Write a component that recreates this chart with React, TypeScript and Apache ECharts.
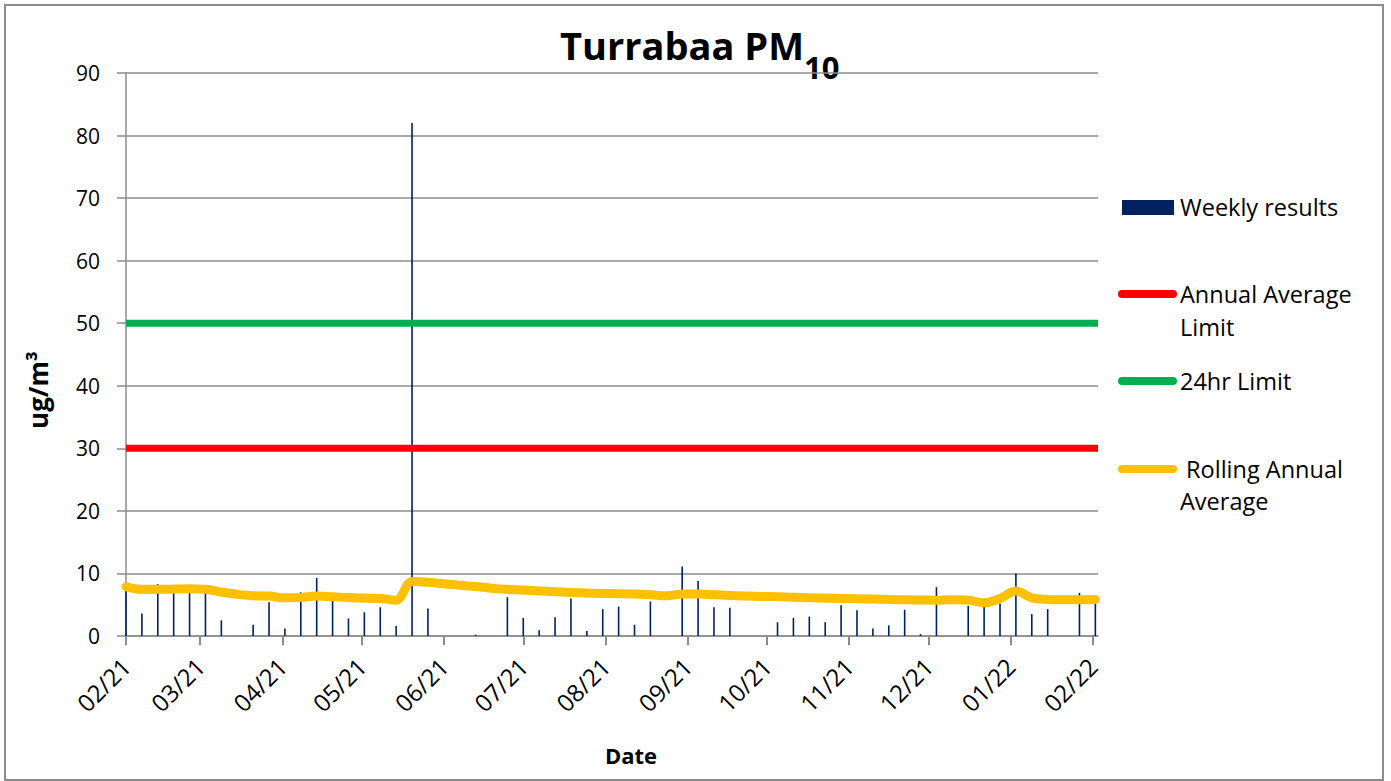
import React, { useEffect, useRef } from "react";
import * as echarts from "echarts";

// Sample dates (1-in-6-day sampling)
const sampleDates = [
  "2021-02-01", "2021-02-07", "2021-02-13", "2021-02-19", "2021-02-25",
  "2021-03-03", "2021-03-09", "2021-03-15", "2021-03-21", "2021-03-27",
  "2021-04-02", "2021-04-08", "2021-04-14", "2021-04-20", "2021-04-26",
  "2021-05-02", "2021-05-08", "2021-05-14", "2021-05-20", "2021-05-26",
  "2021-06-01", "2021-06-07", "2021-06-13", "2021-06-19", "2021-06-25",
  "2021-07-01", "2021-07-07", "2021-07-13", "2021-07-19", "2021-07-25",
  "2021-07-31", "2021-08-06", "2021-08-12", "2021-08-18", "2021-08-24",
  "2021-08-30", "2021-09-05", "2021-09-11", "2021-09-17", "2021-09-23",
  "2021-09-29", "2021-10-05", "2021-10-11", "2021-10-17", "2021-10-23",
  "2021-10-29", "2021-11-04", "2021-11-10", "2021-11-16", "2021-11-22",
  "2021-11-28", "2021-12-04", "2021-12-10", "2021-12-16", "2021-12-22",
  "2021-12-28", "2022-01-03", "2022-01-09", "2022-01-15", "2022-01-21",
  "2022-01-27", "2022-02-02",
];

const weeklyResults: (number | null)[] = [
  7.7, 3.6, 8.3, 7.2, 7.2, 7.2, 2.5, null, 1.8, 5.4,
  1.2, 7.0, 9.3, 5.6, 2.8, 3.8, 4.6, 1.6, 82.0, 4.4,
  null, null, 0.2, null, 6.2, 2.9, 0.9, 3.0, 6.0, 0.8,
  4.3, 4.7, 1.8, 5.5, null, 11.1, 8.8, 4.6, 4.5, null,
  null, 2.2, 2.9, 3.1, 2.2, 4.9, 4.1, 1.2, 1.7, 4.2,
  0.3, 7.8, null, 4.8, 5.0, 5.2, 10.0, 3.5, 4.3, null,
  6.9, 5.5,
];

const rollingAverage = [
  7.9, 7.46, 7.46, 7.5, 7.57, 7.46, 7.03, 6.65, 6.43, 6.38,
  6.1, 6.16, 6.38, 6.27, 6.16, 6.05, 6.0, 5.73, 8.7, 8.6,
  8.35, 8.1, 7.9, 7.65, 7.46, 7.35, 7.2, 7.08, 6.97, 6.88,
  6.8, 6.76, 6.7, 6.6, 6.43, 6.7, 6.7, 6.6, 6.49, 6.4,
  6.33, 6.27, 6.2, 6.1, 6.05, 6.0, 5.95, 5.9, 5.85, 5.78,
  5.75, 5.73, 5.78, 5.73, 5.3, 6.0, 7.19, 6.1, 5.84, 5.78,
  5.78, 5.84,
];

const limitDates = ["2021-02-01", "2022-02-03"];
const annualLimit = [30, 30];
const dailyLimit = [50, 50];

const monthTicks = [
  "2021-02-01", "2021-03-01", "2021-04-01", "2021-05-01", "2021-06-01",
  "2021-07-01", "2021-08-01", "2021-09-01", "2021-10-01", "2021-11-01",
  "2021-12-01", "2022-01-01", "2022-02-01",
];

const yTicks = { min: 0, max: 90, interval: 10 };

const toMs = (s: string) => {
  const [y, m, d] = s.split("-").map(Number);
  return Date.UTC(y, m - 1, d);
};

const FONT = "'Open Sans', 'Noto Sans', sans-serif";

export default function App() {
  const ref = useRef<HTMLDivElement>(null);

  useEffect(() => {
    if (!ref.current) return;
    const chart = echarts.init(ref.current, undefined, { renderer: "svg" });
    const monthMs = monthTicks.map(toMs);
    const xMin = toMs(limitDates[0]);
    const xMax = toMs(limitDates[1]);

    const barData = sampleDates.map((d, i) => [toMs(d), weeklyResults[i]]);
    const rollData = sampleDates.map((d, i) => [toMs(d), rollingAverage[i]]);
    const annData = limitDates.map((d, i) => [toMs(d), annualLimit[i]]);
    const dayData = limitDates.map((d, i) => [toMs(d), dailyLimit[i]]);

    const gray = "#8c8c8c";

    chart.setOption({
      animation: false,
      backgroundColor: "#ffffff",
      grid: { left: 126, right: 293, top: 73, bottom: 145, containLabel: false },
      xAxis: {
        type: "value",
        min: xMin,
        max: xMax,
        axisLine: { show: true, lineStyle: { color: gray, width: 1.5 } },
        axisTick: {
          show: true,
          customValues: monthMs,
          length: 9,
          lineStyle: { color: gray, width: 2 },
        },
        axisLabel: {
          customValues: monthMs,
          rotate: 45,
          margin: 26,
          fontSize: 24,
          color: "#000",
          fontFamily: FONT,
          formatter: (v: number) => {
            const d = new Date(v);
            const mm = String(d.getUTCMonth() + 1).padStart(2, "0");
            const yy = String(d.getUTCFullYear() % 100).padStart(2, "0");
            return mm + "/" + yy;
          },
        },
        splitLine: { show: false },
      },
      yAxis: {
        type: "value",
        min: yTicks.min,
        max: yTicks.max,
        interval: yTicks.interval,
        axisLine: { show: true, lineStyle: { color: gray, width: 1.5 } },
        axisTick: { show: true, length: 9, lineStyle: { color: gray, width: 1.5 } },
        axisLabel: { fontSize: 21, color: "#000", fontFamily: FONT, margin: 26 },
        splitLine: { show: true, lineStyle: { color: gray, width: 1.5 } },
      },
      series: [
        {
          name: "Weekly results",
          type: "bar",
          data: barData,
          barWidth: 1.6,
          itemStyle: { color: "#002060" },
        },
        {
          name: "Annual Average Limit",
          type: "line",
          data: annData,
          symbol: "none",
          lineStyle: { color: "#ff0000", width: 7 },
        },
        {
          name: "24hr Limit",
          type: "line",
          data: dayData,
          symbol: "none",
          lineStyle: { color: "#00b050", width: 7 },
        },
        {
          name: "Rolling Annual Average",
          type: "line",
          data: rollData,
          symbol: "none",
          smooth: 0.35,
          lineStyle: { color: "#ffc000", width: 9, cap: "round", join: "round" },
        },
      ],
      graphic: [
        {
          type: "rect",
          shape: { x: 5, y: 5, width: 1378, height: 775 },
          style: { fill: "none", stroke: gray, lineWidth: 2 },
          silent: true,
        },
        {
          type: "text",
          x: 560,
          y: 45,
          style: {
            text: "Turrabaa PM",
            font: `bold 38px ${FONT}`,
            fill: "#000",
            align: "left",
            verticalAlign: "middle",
          },
        },
        {
          type: "text",
          x: 804,
          y: 67,
          style: {
            text: "10",
            font: `bold 31px ${FONT}`,
            fill: "#000",
            align: "left",
            verticalAlign: "middle",
          },
        },
        {
          type: "text",
          x: 38,
          y: 390,
          rotation: Math.PI / 2,
          style: {
            text: "ug/m³",
            font: `bold 26px ${FONT}`,
            fill: "#000",
            align: "center",
            verticalAlign: "middle",
          },
        },
        {
          type: "text",
          x: 631,
          y: 755,
          style: {
            text: "Date",
            font: `bold 22px ${FONT}`,
            fill: "#000",
            align: "center",
            verticalAlign: "middle",
          },
        },
        // Legend
        {
          type: "rect",
          shape: { x: 1122, y: 200, width: 52, height: 15 },
          style: { fill: "#002060" },
        },
        {
          type: "text",
          x: 1180,
          y: 207,
          style: { text: "Weekly results", font: `23.5px ${FONT}`, fill: "#000", verticalAlign: "middle" },
        },
        {
          type: "line",
          shape: { x1: 1122, y1: 294, x2: 1173, y2: 294 },
          style: { stroke: "#ff0000", lineWidth: 8, lineCap: "round" },
        },
        {
          type: "text",
          x: 1180,
          y: 310,
          style: {
            text: "Annual Average\nLimit",
            font: `23.5px ${FONT}`,
            lineHeight: 33,
            fill: "#000",
            verticalAlign: "middle",
          },
        },
        {
          type: "line",
          shape: { x1: 1122, y1: 381, x2: 1173, y2: 381 },
          style: { stroke: "#00b050", lineWidth: 8, lineCap: "round" },
        },
        {
          type: "text",
          x: 1180,
          y: 381,
          style: { text: "24hr Limit", font: `23.5px ${FONT}`, fill: "#000", verticalAlign: "middle" },
        },
        {
          type: "line",
          shape: { x1: 1122, y1: 469, x2: 1173, y2: 469 },
          style: { stroke: "#ffc000", lineWidth: 8, lineCap: "round" },
        },
        {
          type: "text",
          x: 1180,
          y: 485,
          style: {
            text: " Rolling Annual\nAverage",
            font: `23.5px ${FONT}`,
            lineHeight: 32,
            fill: "#000",
            verticalAlign: "middle",
          },
        },
      ],
    });

    return () => chart.dispose();
  }, []);

  return (
    <div
      ref={ref}
      style={{ position: "fixed", left: 0, top: 0, width: 1391, height: 781, background: "#fff" }}
    />
  );
}
